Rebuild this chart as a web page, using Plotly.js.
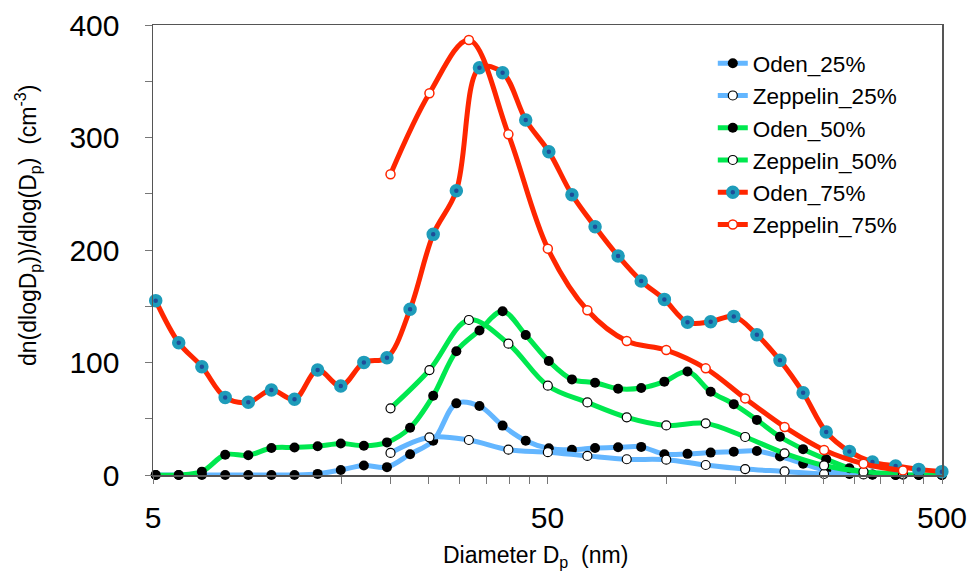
<!DOCTYPE html>
<html>
<head>
<meta charset="utf-8">
<script src="https://cdn.plot.ly/plotly-3.0.1.min.js"></script>
<style>html,body{margin:0;padding:0;background:#fff;}#chart{width:972px;height:577px;}</style>
</head>
<body>
<div id="chart"></div>
<script>
// Diameters (nm)
const odenDiameter = [5.08, 5.81, 6.65, 7.62, 8.72, 9.98, 11.42, 13.07, 14.96, 17.12, 19.59, 22.42, 25.66, 29.37, 33.61, 38.47, 44.03, 50.39, 57.67, 66.0, 75.5, 86.4, 98.9, 113.2, 129.6, 148.3, 169.7, 194.2, 222.3, 254.4, 291.2, 333.2, 381.4, 436.5, 499.6];
const zeppelinDiameter = [20.0, 25.1, 31.6, 39.8, 50.1, 63.1, 79.4, 100.0, 125.9, 158.5, 199.5, 251.2, 316.2, 398.1];

// dN/dlogDp (cm^-3)
const oden25 = [0, 0, 0, 0, 0, 0, 0, 1, 4.5, 8.5, 7, 18.5, 30.5, 63.7, 61.3, 43.9, 30.5, 23.7, 22.5, 24, 24.6, 25, 18.5, 18.8, 19.9, 20.7, 21.3, 16.5, 10, 4, 1, 0.3, 0, 0, 0];
const zeppelin25 = [19.6, 33.5, 31.1, 22.5, 20.3, 17, 14, 13.6, 8.9, 5.3, 3.2, 0.9, 0.5, 0.3];
const oden50 = [0, 0, 3, 18, 17.5, 24, 24.5, 25.5, 28, 26, 29, 42, 70.5, 110, 128.5, 145.5, 124.5, 101.3, 85, 82, 76.7, 77.3, 83, 92, 74, 63, 49, 34, 23, 14, 6, 0.5, 0, 0, 0];
const zeppelin50 = [59.3, 93.3, 137.8, 116.7, 79.4, 64.5, 51.3, 44.1, 45.9, 33.8, 19.3, 8.5, 3, 1];
const oden75 = [155, 117.6, 96.3, 69, 64.6, 75.6, 67.3, 93.3, 79.1, 100.1, 104.3, 147.3, 213.9, 252.7, 362, 357.6, 315.6, 287.4, 249.2, 220.7, 194.7, 172.4, 156.1, 135.7, 136.3, 141, 124.7, 101.9, 73.2, 38.2, 21, 11.5, 8, 5, 3];
const zeppelin75 = [267.3, 339.3, 386.7, 302.8, 201.2, 146.4, 119.1, 111.1, 94.8, 68.1, 42.7, 22.2, 10, 3.9];

const seriesNames = ["Oden_25%", "Zeppelin_25%", "Oden_50%", "Zeppelin_50%", "Oden_75%", "Zeppelin_75%"];

// Axis ticks
const xTickVals = [5, 15, 20, 25, 30, 35, 40, 45, 50, 100, 150, 200, 250, 300, 350, 400, 450, 500];
const xTickText = ["5", "", "", "", "", "", "", "", "50", "", "", "", "", "", "", "", "", "500"];
const yTickVals = [0, 50, 100, 150, 200, 250, 300, 350, 400];
const yTickText = ["0", "", "100", "", "200", "", "300", "", "400"];

const BLUE = "#63B6FF", GREEN = "#00E84F", RED = "#FF2600", TEAL = "#1E9CBA", DARKBLUE = "#1F4C98";
const FONT = "Liberation Sans, Arial, Helvetica, sans-serif";

function tr(x, y, name, lineColor, marker) {
  return {
    x: x, y: y, name: name, type: "scatter", mode: "lines+markers",
    line: {color: lineColor, width: 5, shape: "spline", smoothing: 1},
    marker: marker, cliponaxis: false
  };
}

const data = [
  tr(odenDiameter, oden25, seriesNames[0], BLUE, {symbol: "circle", size: 10, color: "#000", line: {width: 0}}),
  tr(zeppelinDiameter, zeppelin25, seriesNames[1], BLUE, {symbol: "circle", size: 9, color: "#fff", line: {width: 1.2, color: "#000"}}),
  tr(odenDiameter, oden50, seriesNames[2], GREEN, {symbol: "circle", size: 10, color: "#000", line: {width: 0}}),
  tr(zeppelinDiameter, zeppelin50, seriesNames[3], GREEN, {symbol: "circle", size: 9, color: "#fff", line: {width: 1.2, color: "#000"}}),
  tr(odenDiameter, oden75, seriesNames[4], RED, {symbol: "circle", size: 9, color: DARKBLUE, line: {width: 4.5, color: TEAL}}),
  tr(zeppelinDiameter, zeppelin75, seriesNames[5], RED, {symbol: "circle", size: 9, color: "#fff", line: {width: 1.5, color: RED}})
];

const layout = {
  width: 972, height: 577,
  margin: {l: 153, r: 30, t: 25, b: 102},
  paper_bgcolor: "#fff", plot_bgcolor: "#fff",
  font: {family: FONT, color: "#000"},
  showlegend: true,
  legend: {
    x: 0.7095, y: 0.962, xanchor: "left", yanchor: "top",
    bgcolor: "rgba(0,0,0,0)", borderwidth: 0,
    font: {family: FONT, size: 22.5, color: "#000"},
    itemwidth: 30, tracegroupgap: 0
  },
  xaxis: {
    type: "log", range: [Math.log10(5), Math.log10(500)],
    tickmode: "array", tickvals: xTickVals, ticktext: xTickText,
    ticks: "outside", ticklen: 7, tickwidth: 1, tickcolor: "#777",
    tickfont: {family: FONT, size: 30, color: "#000"},
    ticklabelstandoff: 8,
    showgrid: false, zeroline: false,
    showline: true, linecolor: "#555", linewidth: 1.5, mirror: true
  },
  yaxis: {
    range: [0, 400],
    tickmode: "array", tickvals: yTickVals, ticktext: yTickText,
    ticks: "outside", ticklen: 7, tickwidth: 1, tickcolor: "#777",
    tickfont: {family: FONT, size: 30, color: "#000"},
    ticklabelstandoff: 19,
    showgrid: false, zeroline: false,
    showline: true, linecolor: "#555", linewidth: 1.5, mirror: true
  },
  annotations: [
    {
      text: "Diameter D<sub>p</sub>\u00a0\u00a0(nm)",
      xref: "paper", yref: "paper", x: 0.4854, y: -0.18,
      xanchor: "center", yanchor: "middle", showarrow: false,
      font: {family: FONT, size: 23, color: "#000"}
    },
    {
      text: "dn(dlogD<sub>p</sub>))/dlog(D<sub>p</sub>)\u00a0\u00a0(cm<sup>-3</sup>)",
      xref: "paper", yref: "paper", x: -0.1597, y: 0.5556,
      xanchor: "center", yanchor: "middle", showarrow: false, textangle: -90,
      font: {family: FONT, size: 23, color: "#000"}
    }
  ]
};

Plotly.newPlot("chart", data, layout, {displayModeBar: false, staticPlot: true});
</script>
</body>
</html>
